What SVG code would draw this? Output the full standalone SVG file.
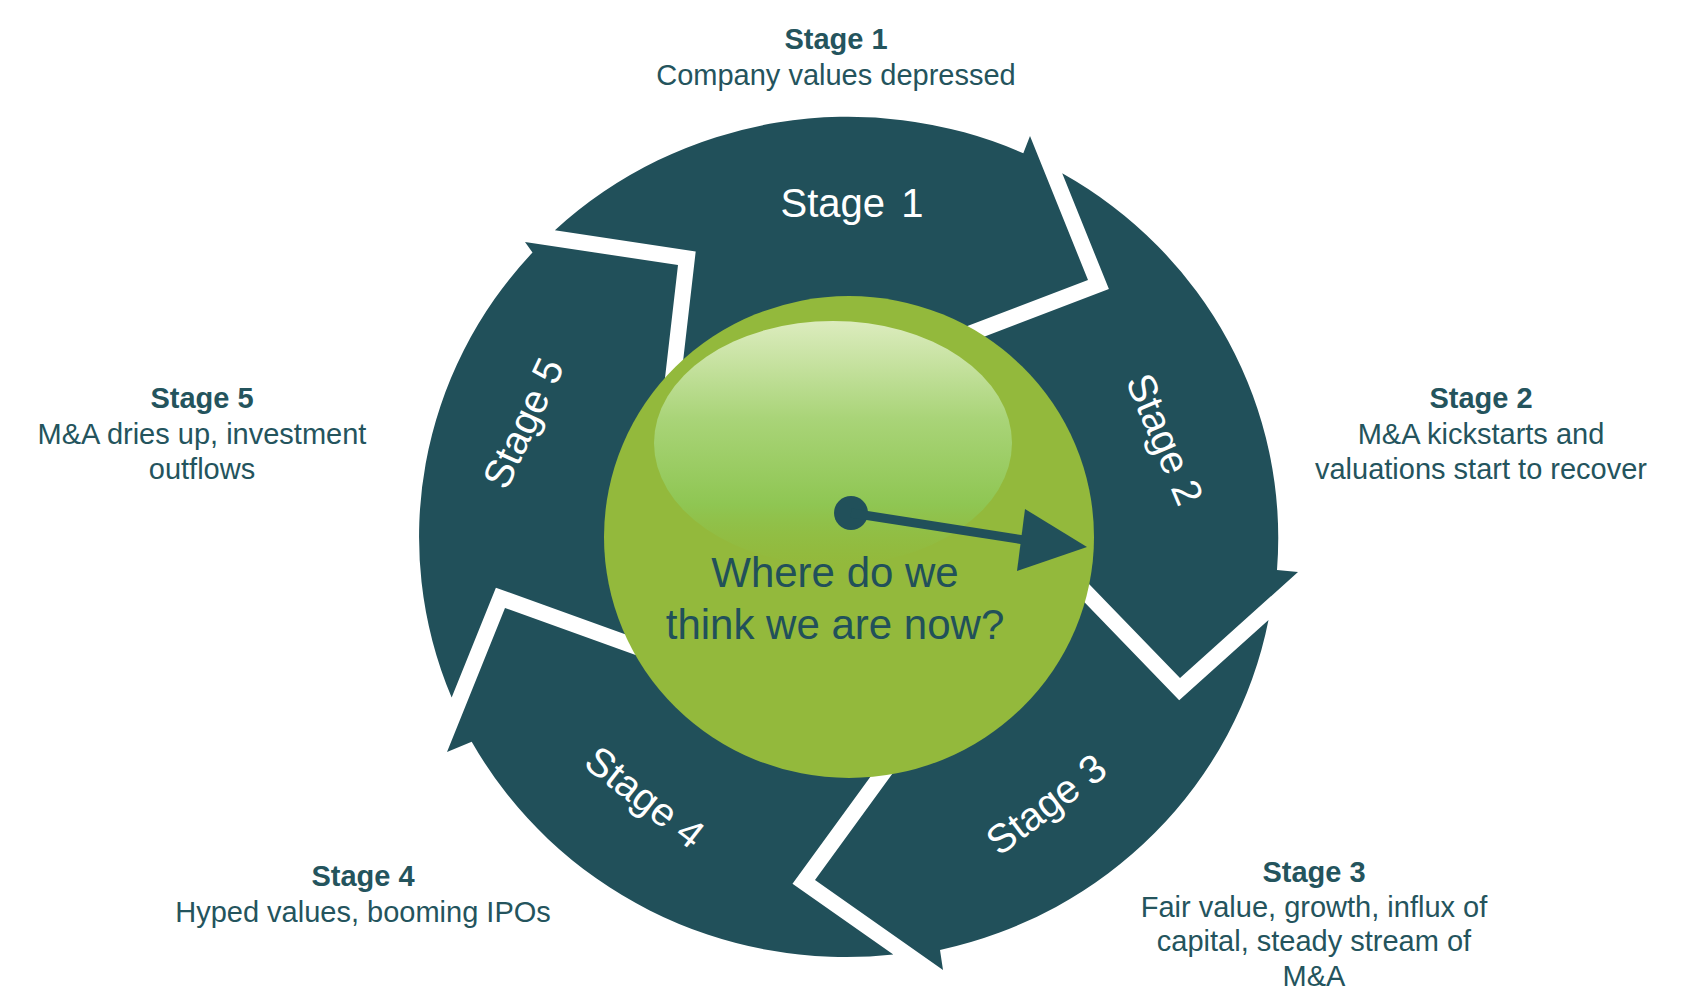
<svg xmlns="http://www.w3.org/2000/svg" width="1700" height="1004" viewBox="0 0 1700 1004">
<defs>
<style>
.seg{fill:#21505a}
.ringtxt{font-family:"Liberation Sans",Arial,sans-serif;font-size:40px;fill:#ffffff;text-anchor:middle}
.lbl{font-family:"Liberation Sans",Arial,sans-serif;font-size:29px;fill:#24545d;text-anchor:middle}
.hd{font-weight:bold}
.ctr{font-family:"Liberation Sans",Arial,sans-serif;font-size:42px;fill:#21505a;text-anchor:middle}
.ptr{fill:#21505a}
</style>
<linearGradient id="hl" x1="0" y1="0" x2="0" y2="1">
<stop offset="0" stop-color="#dcecbe"/>
<stop offset="0.4" stop-color="#a9d478"/>
<stop offset="0.75" stop-color="#8fc653"/>
<stop offset="1" stop-color="#8fbf45" stop-opacity="0"/>
</linearGradient>
</defs>
<rect width="1700" height="1004" fill="#ffffff"/>

<g id="stage1">
<path class="seg" d="M554.9,230.3 A429,420 0 0 1 1023.3,153.3 L1030,136 L1088,280 L938.5,336.9 L675.6,425.8 L695.7,251.5 Z"/>
<text class="ringtxt" x="852" y="217" word-spacing="5">Stage 1</text>
<text class="lbl hd" x="836" y="49">Stage 1</text>
<text class="lbl" x="836" y="85">Company values depressed</text>
</g>

<g id="stage2">
<path class="seg" d="M1062.2,173.3 A429,420 0 0 1 1277,570 L1298,572 L1180,678 L1065.3,559.4 L944.2,351.9 L1108.9,289.1 Z"/>
<text class="ringtxt" transform="translate(1165,439) rotate(67)" x="0" y="14">Stage 2</text>
<text class="lbl hd" x="1481" y="408">Stage 2</text>
<text class="lbl" x="1481" y="444">M&amp;A kickstarts and</text>
<text class="lbl" x="1481" y="479">valuations start to recover</text>
</g>

<g id="stage3">
<path class="seg" d="M1268.5,620 A429,420 0 0 1 940,950 L943,970 L815,880 L909.2,750.6 L1053.8,570.5 L1179.2,700.2 Z"/>
<text class="ringtxt" transform="translate(1046,804) rotate(-37)" x="0" y="14">Stage 3</text>
<text class="lbl hd" x="1314" y="882">Stage 3</text>
<text class="lbl" x="1314" y="917">Fair value, growth, influx of</text>
<text class="lbl" x="1314" y="951">capital, steady stream of</text>
<text class="lbl" x="1314" y="986">M&amp;A</text>
</g>

<g id="stage4">
<path class="seg" d="M893.3,954.6 A429,420 0 0 1 471.7,741.7 L447,752 L505,608 L669.6,667.3 L896.3,741.2 L792.5,883.7 Z"/>
<text class="ringtxt" transform="translate(645,797) rotate(38)" x="0" y="14">Stage 4</text>
<text class="lbl hd" x="363" y="886">Stage 4</text>
<text class="lbl" x="363" y="922">Hyped values, booming IPOs</text>
</g>

<g id="stage5">
<path class="seg" d="M451.65,697.6 A429,420 0 0 1 532.5,252.5 L525,242 L678,265 L659.7,424 L675,652.3 L495.9,587.7 Z"/>
<text class="ringtxt" transform="translate(523,423) rotate(-65)" x="0" y="14">Stage 5</text>
<text class="lbl hd" x="202" y="408">Stage 5</text>
<text class="lbl" x="202" y="444">M&amp;A dries up, investment</text>
<text class="lbl" x="202" y="479">outflows</text>
</g>

<g id="center">
<ellipse cx="849" cy="537" rx="245" ry="241" fill="#93b93c"/>
<ellipse cx="833" cy="443" rx="179" ry="122" fill="url(#hl)"/>
<text class="ctr" x="835" y="587">Where do we</text>
<text class="ctr" x="835" y="639">think we are now?</text>
</g>

<g id="connectors">
<circle class="ptr" cx="851" cy="513" r="17"/>
<line x1="851" y1="513" x2="1024" y2="540" stroke="#21505a" stroke-width="9"/>
<polygon class="ptr" points="1087,547 1025,509 1017,571"/>
</g>
</svg>
